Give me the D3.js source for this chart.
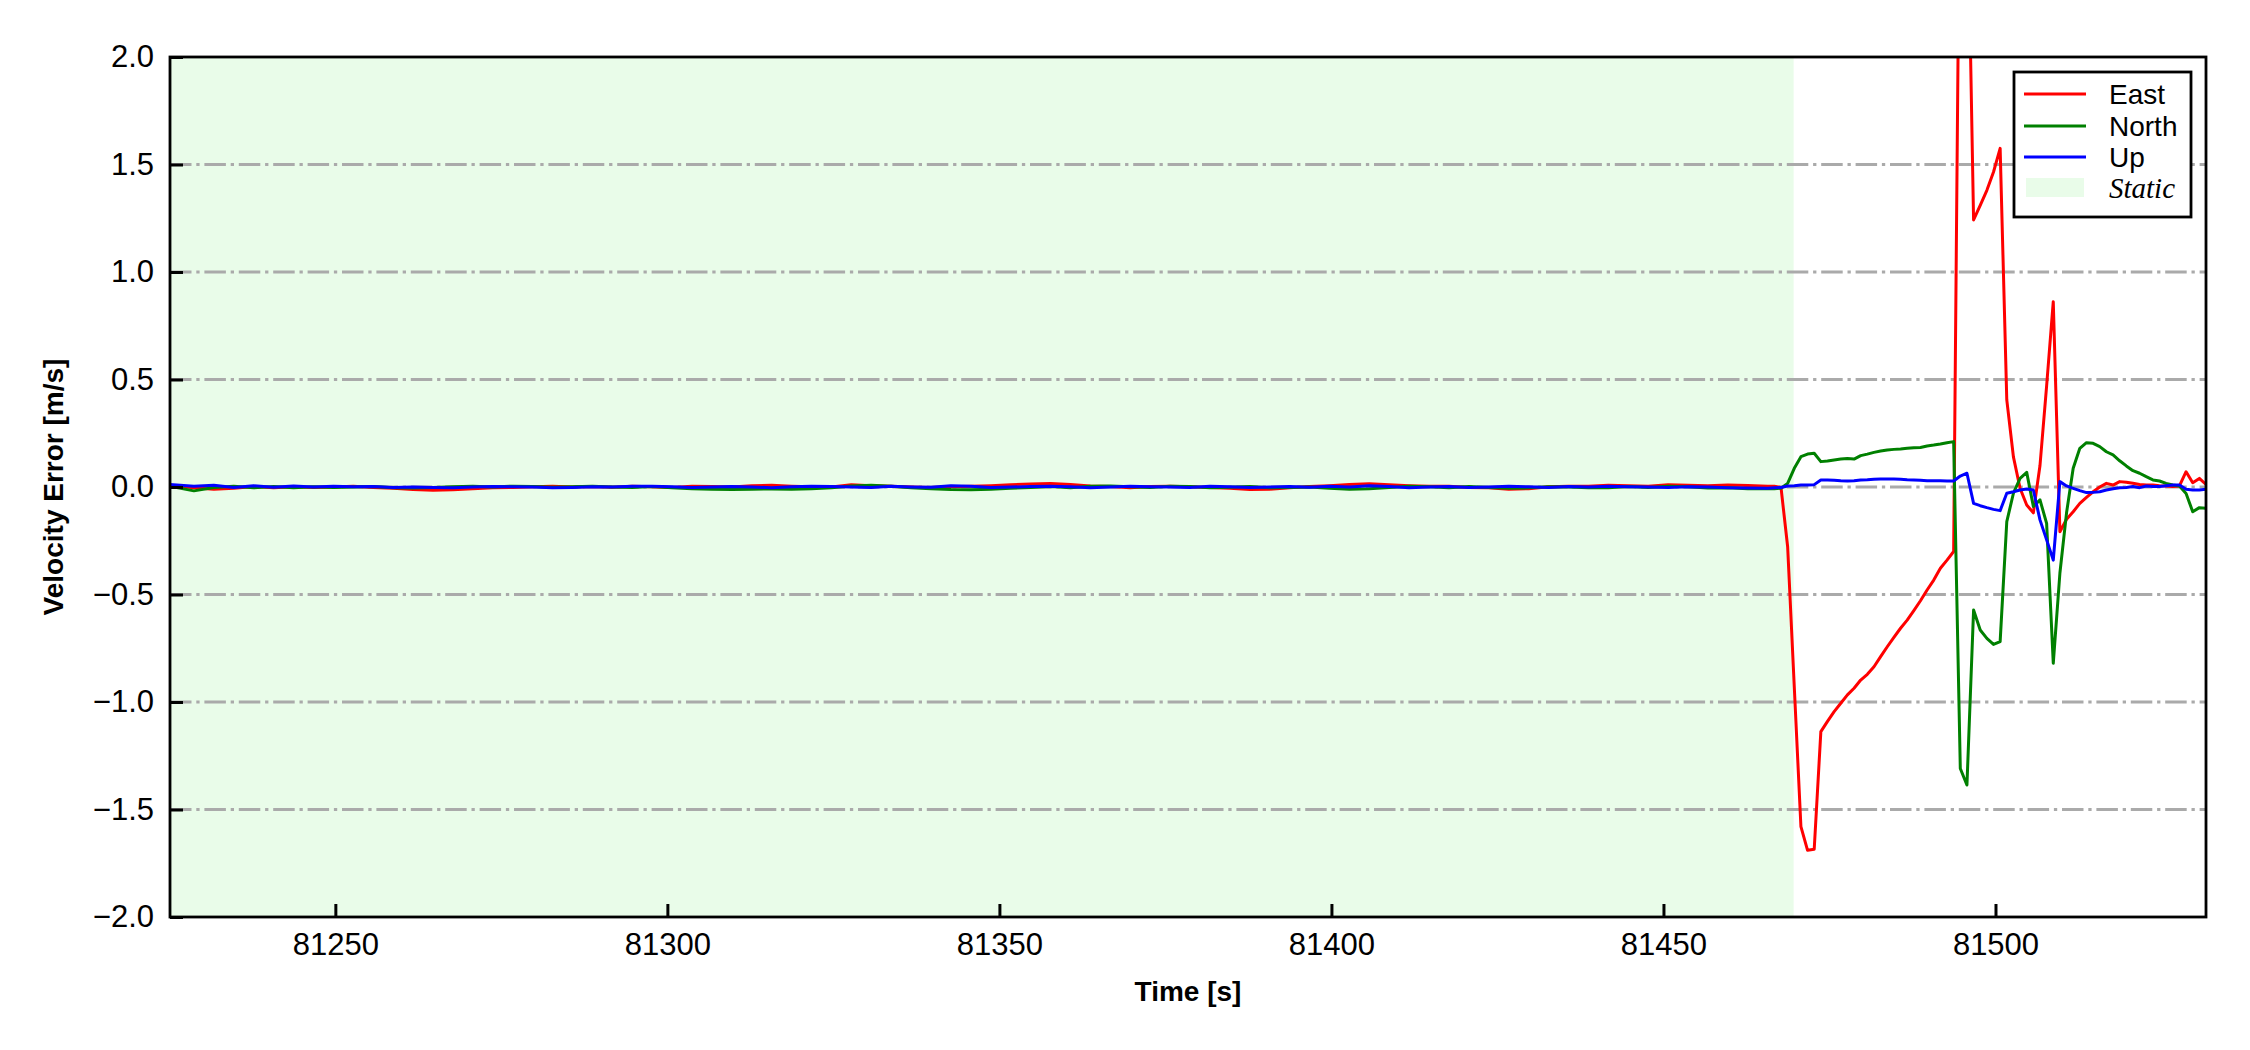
<!DOCTYPE html>
<html>
<head>
<meta charset="utf-8">
<script src="https://cdn.jsdelivr.net/npm/d3@7/dist/d3.min.js"></script>
<style>
  html, body { margin: 0; padding: 0; background: #ffffff; }
  svg { display: block; font-family: "Liberation Sans", Arial, sans-serif; }
</style>
</head>
<body>
<svg id="chart" width="2250" height="1050"></svg>
<script>
// ---------------- DATA ----------------
const seriesNames = ["East", "North", "Up"];
const seriesColors = ["#ff0000", "#008000", "#0000ff"];
const staticLabel = "Static";
const staticRange = [81225.1, 81469.6];
const xDomain = [81225.1, 81531.7];
const yDomain = [-2.0, 2.0];
const xTicks = [81250, 81300, 81350, 81400, 81450, 81500];
const yTicks = [-2.0, -1.5, -1.0, -0.5, 0.0, 0.5, 1.0, 1.5, 2.0];
const xLabel = "Time [s]";
const yLabel = "Velocity Error [m/s]";

// time stamps [s]
const time = [
  81225.1, 81228.7, 81231.7, 81234.7, 81237.7, 81240.7, 81243.7, 81246.7, 81249.7, 81252.7,
  81255.7, 81258.7, 81261.7, 81264.7, 81267.7, 81270.7, 81273.7, 81276.7, 81279.7, 81282.7,
  81285.7, 81288.7, 81291.7, 81294.7, 81297.7, 81300.7, 81303.7, 81306.7, 81309.7, 81312.7,
  81315.7, 81318.7, 81321.7, 81324.7, 81327.7, 81330.7, 81333.7, 81336.7, 81339.7, 81342.7,
  81345.7, 81348.7, 81351.7, 81354.7, 81357.7, 81360.7, 81363.7, 81366.7, 81369.7, 81372.7,
  81375.7, 81378.7, 81381.7, 81384.7, 81387.7, 81390.7, 81393.7, 81396.7, 81399.7, 81402.7,
  81405.7, 81408.7, 81411.7, 81414.7, 81417.7, 81420.7, 81423.7, 81426.7, 81429.7, 81432.7,
  81435.7, 81438.7, 81441.7, 81444.7, 81447.7, 81450.7, 81453.7, 81456.7, 81459.7, 81462.7,
  81465.7,
  81466.7,
  81467.7, 81468.7, 81469.7, 81470.7, 81471.7, 81472.7, 81473.7, 81474.7, 81475.7, 81476.7,
  81477.7, 81478.7, 81479.7, 81480.7, 81481.7, 81482.7, 81483.7, 81484.7, 81485.7, 81486.7,
  81487.7, 81488.7, 81489.7, 81490.7, 81491.7, 81492.7, 81493.7, 81494.7, 81495.7, 81496.7,
  81497.7, 81498.7, 81499.7, 81500.7, 81501.7, 81502.7, 81503.7, 81504.7, 81505.7, 81506.7,
  81507.7, 81508.7, 81509.7, 81510.7, 81511.7, 81512.7, 81513.7, 81514.7, 81515.7, 81516.7,
  81517.7, 81518.7, 81519.7, 81520.7, 81521.7, 81522.7, 81523.7, 81524.7, 81525.7, 81526.7,
  81527.7, 81528.7, 81529.7, 81530.7, 81531.7
];

const east = [
  0.008, -0.004, -0.010, -0.006, 0.002, -0.003, 0.001, -0.002, 0.000, 0.003,
  -0.002, -0.006, -0.012, -0.015, -0.013, -0.008, -0.004, -0.002, 0.001, 0.003,
  0.000, 0.002, -0.001, 0.003, 0.001, -0.002, 0.004, 0.002, 0.000, 0.006,
  0.008, 0.004, 0.001, 0.000, 0.010, 0.006, 0.003, 0.000, -0.002, 0.001,
  0.004, 0.006, 0.010, 0.014, 0.016, 0.012, 0.005, 0.002, -0.003, 0.002,
  0.004, 0.001, -0.002, -0.006, -0.012, -0.010, -0.004, 0.002, 0.006, 0.012,
  0.015, 0.010, 0.006, 0.004, 0.003, -0.002, -0.004, -0.010, -0.008, 0.001,
  0.003, 0.004, 0.008, 0.006, 0.004, 0.010, 0.008, 0.006, 0.009, 0.007,
  0.004,
  0.004,
  -0.002, -0.278, -0.93, -1.58, -1.69, -1.685, -1.138, -1.09, -1.045, -1.006,
  -0.967, -0.936, -0.898, -0.871, -0.836, -0.789, -0.743, -0.699, -0.657, -0.619,
  -0.575, -0.529, -0.479, -0.433, -0.378, -0.34, -0.30, 3.2, 2.93, 1.242,
  1.31, 1.38, 1.465, 1.575, 0.405, 0.14, -0.006, -0.084, -0.12, 0.10,
  0.47, 0.862, -0.208, -0.15, -0.115, -0.076, -0.048, -0.022, 0.0, 0.017,
  0.009, 0.025, 0.022, 0.017, 0.012, 0.009, 0.009, 0.006, 0.005, 0.002,
  0.005, 0.071, 0.02, 0.04, 0.012
];

const north = [
  0.004, -0.018, -0.002, 0.003, -0.004, 0.002, -0.003, 0.001, -0.002, 0.000,
  0.002, -0.003, -0.005, -0.002, 0.001, 0.003, 0.000, 0.004, 0.002, -0.001,
  0.001, 0.003, 0.000, -0.002, 0.002, -0.004, -0.008, -0.010, -0.012, -0.010,
  -0.009, -0.011, -0.008, -0.004, 0.005, 0.008, 0.004, -0.003, -0.008, -0.012,
  -0.013, -0.010, -0.006, -0.002, 0.002, -0.003, 0.003, 0.005, 0.001, -0.002,
  0.004, 0.002, -0.003, -0.001, 0.002, -0.004, -0.002, 0.000, -0.006, -0.010,
  -0.008, -0.002, 0.003, 0.001, -0.003, 0.002, -0.002, -0.006, -0.004, 0.001,
  0.000, -0.004, -0.003, 0.002, -0.002, 0.004, 0.001, -0.005, -0.003, -0.008,
  -0.007,
  -0.008,
  -0.006, 0.017, 0.087, 0.141, 0.153, 0.157, 0.118, 0.121, 0.126, 0.13,
  0.133, 0.13, 0.146, 0.153, 0.161, 0.167, 0.172, 0.175, 0.177, 0.18,
  0.183, 0.184, 0.191, 0.195, 0.2, 0.206, 0.211, -1.309, -1.386, -0.572,
  -0.665, -0.704, -0.732, -0.719, -0.161, -0.029, 0.04, 0.068, -0.091, -0.06,
  -0.169, -0.82, -0.40, -0.12, 0.087, 0.18, 0.206, 0.203, 0.188, 0.164,
  0.149, 0.122, 0.098, 0.076, 0.064, 0.048, 0.033, 0.028, 0.017, 0.009,
  0.005, -0.03, -0.115, -0.096, -0.099
];

const up = [
  0.012, 0.004, 0.008, -0.002, 0.006, -0.001, 0.005, 0.000, 0.003, 0.001,
  0.002, -0.002, 0.000, -0.002, -0.003, 0.000, 0.002, 0.001, 0.000, -0.003,
  -0.002, 0.001, 0.000, 0.003, 0.004, 0.001, -0.002, 0.000, 0.002, 0.000,
  -0.003, 0.001, 0.004, 0.002, 0.000, -0.002, 0.003, 0.000, -0.001, 0.006,
  0.003, -0.002, 0.000, 0.002, 0.004, 0.001, -0.004, 0.000, 0.003, 0.001,
  0.000, -0.002, 0.003, 0.001, -0.002, 0.000, 0.002, -0.001, 0.004, 0.000,
  0.006, 0.002, -0.003, 0.000, 0.002, -0.002, 0.000, 0.003, 0.001, -0.002,
  0.002, 0.000, 0.003, 0.001, 0.000, -0.002, 0.001, 0.000, -0.003, -0.005,
  -0.006,
  -0.004,
  -0.002, 0.005, 0.006, 0.009, 0.009, 0.011, 0.033, 0.033, 0.031, 0.029,
  0.028, 0.029, 0.033, 0.034, 0.036, 0.037, 0.037, 0.037, 0.036, 0.034,
  0.033, 0.031, 0.029, 0.029, 0.029, 0.028, 0.028, 0.051, 0.064, -0.076,
  -0.087, -0.096, -0.104, -0.11, -0.029, -0.022, -0.014, -0.009, -0.014, -0.153,
  -0.246, -0.34, 0.025, 0.005, -0.006, -0.017, -0.026, -0.025, -0.022, -0.014,
  -0.008, -0.003, -0.002, 0.002, -0.003, 0.005, 0.002, 0.002, 0.006, 0.009,
  0.009, -0.011, -0.014, -0.014, -0.011
];

const seriesValues = [east, north, up];

// ---------------- LAYOUT ----------------
const W = 2250, H = 1050;
const margin = { left: 170, right: 44, top: 57, bottom: 133 };
const plotW = W - margin.left - margin.right;   // 2036
const plotH = H - margin.top - margin.bottom;   // 860

const staticFill = "#e9fce9";
const gridColor = "#aaaaaa";

const svg = d3.select("#chart");
svg.append("rect").attr("width", W).attr("height", H).attr("fill", "#ffffff");

const x = d3.scaleLinear().domain(xDomain).range([0, plotW]);
const y = d3.scaleLinear().domain(yDomain).range([plotH, 0]);

const g = svg.append("g").attr("transform", `translate(${margin.left},${margin.top})`);

g.append("clipPath").attr("id", "clip")
  .append("rect").attr("x", 0).attr("y", 0).attr("width", plotW).attr("height", plotH);

// static shaded region
g.append("rect")
  .attr("x", x(staticRange[0]))
  .attr("y", 0)
  .attr("width", x(staticRange[1]) - x(staticRange[0]))
  .attr("height", plotH)
  .attr("fill", staticFill);

// horizontal grid (dash-dot)
g.append("g")
  .selectAll("line")
  .data(yTicks.filter(v => v > yDomain[0] && v < yDomain[1]))
  .join("line")
  .attr("x1", 0).attr("x2", plotW)
  .attr("y1", d => y(d)).attr("y2", d => y(d))
  .attr("stroke", gridColor)
  .attr("stroke-width", 3)
  .attr("stroke-dasharray", "21.5,4.8,3.3,4.8");

// lines
const lineGen = d3.line()
  .x(d => x(d[0]))
  .y(d => y(d[1]));

const linesG = g.append("g").attr("clip-path", "url(#clip)");
seriesValues.forEach((vals, i) => {
  const pts = time.map((t, j) => [t, vals[j]]);
  linesG.append("path")
    .datum(pts)
    .attr("fill", "none")
    .attr("stroke", seriesColors[i])
    .attr("stroke-width", 3)
    .attr("stroke-linejoin", "round")
    .attr("d", lineGen);
});

// axes
const tickFont = 31;
const yAxis = d3.axisLeft(y)
  .tickValues(yTicks)
  .tickFormat(d3.format(".1f"))
  .tickSize(-13)
  .tickPadding(16);
const yAxG = g.append("g").call(yAxis);
yAxG.select(".domain").remove();
yAxG.selectAll(".tick line").attr("stroke", "#000").attr("stroke-width", 3);
yAxG.selectAll(".tick text")
  .attr("font-size", tickFont)
  .attr("font-family", "Liberation Sans, Arial, sans-serif")
  .attr("fill", "#000");

const xAxis = d3.axisBottom(x)
  .tickValues(xTicks)
  .tickFormat(d3.format("d"))
  .tickSize(-13)
  .tickPadding(16);
const xAxG = g.append("g").attr("transform", `translate(0,${plotH})`).call(xAxis);
xAxG.select(".domain").remove();
xAxG.selectAll(".tick line").attr("stroke", "#000").attr("stroke-width", 3);
xAxG.selectAll(".tick text")
  .attr("font-size", tickFont)
  .attr("font-family", "Liberation Sans, Arial, sans-serif")
  .attr("fill", "#000");

// frame
g.append("rect")
  .attr("x", 0).attr("y", 0).attr("width", plotW).attr("height", plotH)
  .attr("fill", "none").attr("stroke", "#000").attr("stroke-width", 2.8);

// axis labels
svg.append("text")
  .attr("x", margin.left + plotW / 2)
  .attr("y", 1001)
  .attr("text-anchor", "middle")
  .attr("font-size", 28)
  .attr("font-weight", "bold")
  .text(xLabel);

svg.append("text")
  .attr("transform", `translate(63,${margin.top + plotH / 2}) rotate(-90)`)
  .attr("text-anchor", "middle")
  .attr("font-size", 28)
  .attr("font-weight", "bold")
  .text(yLabel);

// legend
const leg = svg.append("g").attr("transform", "translate(2014,72)");
leg.append("rect")
  .attr("x", 0).attr("y", 0).attr("width", 177).attr("height", 145)
  .attr("fill", "#ffffff").attr("stroke", "#000").attr("stroke-width", 2.8);
const rowY = [22, 54, 85, 116];
seriesNames.forEach((name, i) => {
  leg.append("line")
    .attr("x1", 10).attr("x2", 72)
    .attr("y1", rowY[i]).attr("y2", rowY[i])
    .attr("stroke", seriesColors[i]).attr("stroke-width", 3);
  leg.append("text")
    .attr("x", 95).attr("y", rowY[i] + 10)
    .attr("font-size", 28)
    .attr("fill", "#000")
    .text(name);
});
leg.append("rect")
  .attr("x", 12).attr("y", rowY[3] - 10).attr("width", 58).attr("height", 19)
  .attr("fill", staticFill);
leg.append("text")
  .attr("x", 95).attr("y", rowY[3] + 10)
  .attr("font-size", 29)
  .attr("font-style", "italic")
  .attr("font-family", "Liberation Serif, Times New Roman, serif")
  .attr("fill", "#000")
  .text(staticLabel);
</script>
</body>
</html>
